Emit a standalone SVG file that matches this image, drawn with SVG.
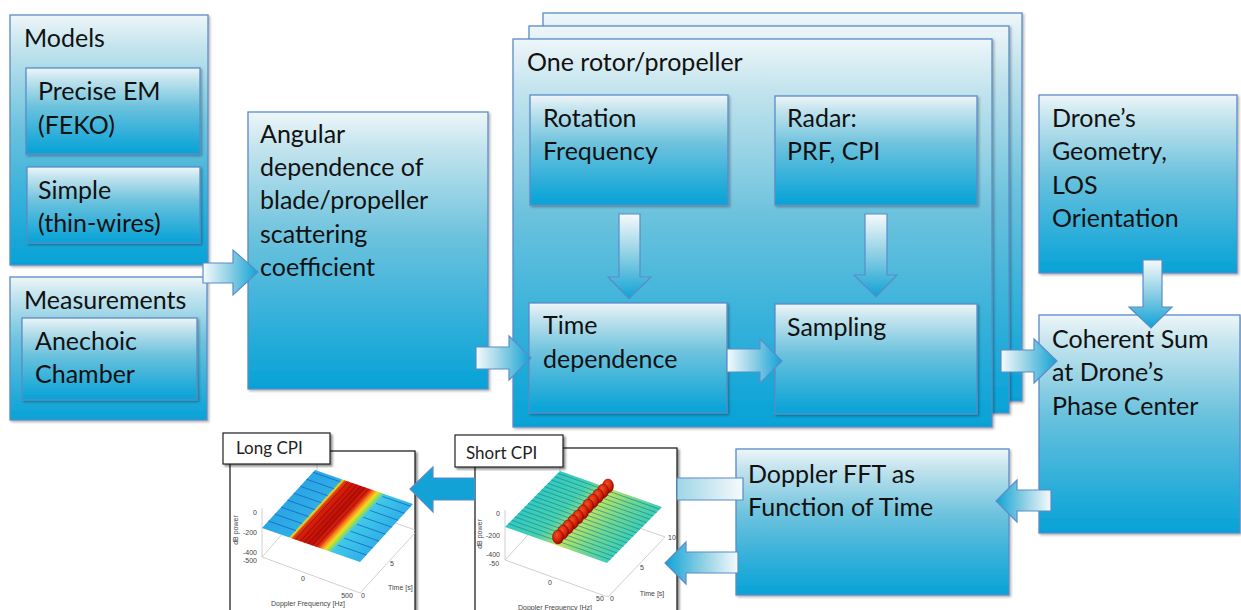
<svg xmlns="http://www.w3.org/2000/svg" width="1241" height="610" viewBox="0 0 1241 610">
<defs>
<style>
.box{fill:url(#gBox);stroke:#5b8cc8;stroke-width:1.3;filter:url(#sh)}
.t{font-family:Lato,"Liberation Sans",sans-serif;font-size:25px;fill:#111}
.lbl{font-family:Lato,"Liberation Sans",sans-serif;font-size:17px;fill:#222}
.arr{stroke:#5b8cc8;stroke-width:1.2}
.ax{stroke:#c4c4c4;stroke-width:0.8;fill:none}
.tk{font-family:"Liberation Sans",Arial,sans-serif;font-size:7px;fill:#444}
.frame{fill:#fff;stroke:#222;stroke-width:1.3;filter:url(#sh2)}
.ns{vector-effect:non-scaling-stroke;fill:none;stroke-width:1px}
.sb{stroke:#1560c0;stroke-opacity:0.75}
.sr{stroke:#780000;stroke-opacity:0.6}
.sg{stroke:#168c96;stroke-opacity:0.7}
</style>
<filter id="sh" x="-5%" y="-5%" width="115%" height="115%">
<feDropShadow dx="1.5" dy="1.5" stdDeviation="1.2" flood-color="#000" flood-opacity="0.3"/>
</filter>
<filter id="sh2" x="-5%" y="-5%" width="115%" height="115%">
<feDropShadow dx="2" dy="2" stdDeviation="1.2" flood-color="#000" flood-opacity="0.45"/>
</filter>
<linearGradient id="gBox" x1="0" y1="0" x2="0" y2="1">
<stop offset="0" stop-color="#eef6f9"/>
<stop offset="0.12" stop-color="#c6e5ee"/>
<stop offset="0.45" stop-color="#6cc2dd"/>
<stop offset="0.75" stop-color="#33b0da"/>
<stop offset="1" stop-color="#05a2d6"/>
</linearGradient>
<linearGradient id="gR" x1="0" y1="0" x2="1" y2="0">
<stop offset="0" stop-color="#f6fafc"/>
<stop offset="0.5" stop-color="#8acee3"/>
<stop offset="1" stop-color="#10a2d6"/>
</linearGradient>
<linearGradient id="gL" x1="1" y1="0" x2="0" y2="0">
<stop offset="0" stop-color="#f6fafc"/>
<stop offset="0.5" stop-color="#8acee3"/>
<stop offset="1" stop-color="#10a2d6"/>
</linearGradient>
<linearGradient id="gD" x1="0" y1="0" x2="0" y2="1">
<stop offset="0" stop-color="#f6fafc"/>
<stop offset="0.5" stop-color="#8acee3"/>
<stop offset="1" stop-color="#10a2d6"/>
</linearGradient>
<linearGradient id="gLong" gradientUnits="userSpaceOnUse" x1="743" y1="0" x2="560" y2="0">
<stop offset="0" stop-color="#f6fafc"/>
<stop offset="0.5" stop-color="#7cc8df"/>
<stop offset="1" stop-color="#12a2d5"/>
</linearGradient>
<linearGradient id="gSurfL" x1="0" y1="0" x2="1" y2="0">
<stop offset="0" stop-color="#2aa6e4"/>
<stop offset="0.27" stop-color="#30ace6"/>
<stop offset="0.29" stop-color="#e8e020"/>
<stop offset="0.31" stop-color="#e04010"/>
<stop offset="0.36" stop-color="#d41c0a"/>
<stop offset="0.5" stop-color="#bc1008"/>
<stop offset="0.57" stop-color="#e02a10"/>
<stop offset="0.6" stop-color="#f08020"/>
<stop offset="0.64" stop-color="#f8d820"/>
<stop offset="0.67" stop-color="#a0e040"/>
<stop offset="0.71" stop-color="#40c8e8"/>
<stop offset="1" stop-color="#30b0e8"/>
</linearGradient>
<linearGradient id="gSurfS" x1="0" y1="0" x2="1" y2="0">
<stop offset="0" stop-color="#34c8c0"/>
<stop offset="0.3" stop-color="#48d0ae"/>
<stop offset="0.45" stop-color="#98dc78"/>
<stop offset="0.5" stop-color="#c4e25c"/>
<stop offset="0.56" stop-color="#b0e068"/>
<stop offset="0.75" stop-color="#70d690"/>
<stop offset="1" stop-color="#3ecdb4"/>
</linearGradient>
<radialGradient id="gBump" cx="0.4" cy="0.35" r="0.7">
<stop offset="0" stop-color="#f05020"/>
<stop offset="0.6" stop-color="#d42008"/>
<stop offset="1" stop-color="#8a0800"/>
</radialGradient>
</defs>
<rect width="1241" height="610" fill="#fff"/>

<g id="models">
<rect class="box" x="10" y="15" width="198" height="250"/>
<text class="t" x="24" y="47">Models</text>
</g>
<g id="precise-em">
<rect class="box" x="26" y="68" width="174" height="86"/>
<text class="t" x="38" y="100">Precise EM</text>
<text class="t" x="38" y="134">(FEKO)</text>
</g>
<g id="simple">
<rect class="box" x="27" y="167" width="173" height="76"/>
<text class="t" x="38" y="199">Simple</text>
<text class="t" x="38" y="232">(thin-wires)</text>
</g>
<g id="measurements">
<rect class="box" x="10" y="277" width="197" height="143"/>
<text class="t" x="24" y="309">Measurements</text>
</g>
<g id="anechoic">
<rect class="box" x="22" y="318" width="175" height="82"/>
<text class="t" x="35" y="350">Anechoic</text>
<text class="t" x="35" y="383">Chamber</text>
</g>
<g id="angular">
<rect class="box" x="248" y="112" width="240" height="277"/>
<text class="t" x="260" y="143">Angular</text>
<text class="t" x="260" y="176">dependence of</text>
<text class="t" x="260" y="209">blade/propeller</text>
<text class="t" x="260" y="243">scattering</text>
<text class="t" x="260" y="276">coefficient</text>
</g>
<g id="rotor-stack">
<rect class="box" x="543" y="13" width="479" height="388"/>
<rect class="box" x="529" y="26" width="480" height="387"/>
<rect class="box" x="513" y="39" width="479" height="388"/>
<text class="t" x="527" y="71">One rotor/propeller</text>
</g>
<g id="rotation">
<rect class="box" x="530" y="95" width="198" height="110"/>
<text class="t" x="543" y="127">Rotation</text>
<text class="t" x="543" y="160">Frequency</text>
</g>
<g id="radar">
<rect class="box" x="775" y="96" width="202" height="109"/>
<text class="t" x="787" y="127">Radar:</text>
<text class="t" x="787" y="160">PRF, CPI</text>
</g>
<g id="time-dependence">
<rect class="box" x="529" y="303" width="198" height="110"/>
<text class="t" x="543" y="334">Time</text>
<text class="t" x="543" y="368">dependence</text>
</g>
<g id="sampling">
<rect class="box" x="775" y="304" width="202" height="110"/>
<text class="t" x="787" y="336">Sampling</text>
</g>
<g id="drone-geometry">
<rect class="box" x="1039" y="95" width="198" height="178"/>
<text class="t" x="1052" y="127">Drone’s</text>
<text class="t" x="1052" y="160">Geometry,</text>
<text class="t" x="1052" y="194">LOS</text>
<text class="t" x="1052" y="227">Orientation</text>
</g>
<g id="coherent-sum">
<rect class="box" x="1039" y="315" width="201" height="218"/>
<text class="t" x="1052" y="348">Coherent Sum</text>
<text class="t" x="1052" y="381">at Drone’s</text>
<text class="t" x="1052" y="415">Phase Center</text>
</g>
<g id="doppler-fft">
<rect class="box" x="736" y="449" width="273" height="146"/>
<text class="t" x="748" y="483">Doppler FFT as</text>
<text class="t" x="748" y="516">Function of Time</text>
</g>

<g id="long-cpi">
<rect class="frame" x="230" y="451" width="185" height="170"/>
<path class="ax" d="M262,508 V557 L360,593 L415,533 M317,452 V495 M262,557 L317,495 L415,530"/>
<g transform="matrix(98 34 53 -58 262 528)">
<rect x="0" y="0" width="1" height="1" fill="url(#gSurfL)"/>
<path class="ns sb" d="M0,0.12 H0.28 M0,0.24 H0.28 M0,0.36 H0.28 M0,0.48 H0.28 M0,0.6 H0.28 M0,0.72 H0.28 M0,0.84 H0.28 M0,0.96 H0.28"/>
<path class="ns sb" d="M0.71,0.12 H1 M0.71,0.24 H1 M0.71,0.36 H1 M0.71,0.48 H1 M0.71,0.6 H1 M0.71,0.72 H1 M0.71,0.84 H1 M0.71,0.96 H1"/>
<path class="ns sr" d="M0.34,0 V1 M0.39,0 V1 M0.43,0 V1 M0.47,0 V1 M0.51,0 V1 M0.55,0 V1"/>
</g>
<text class="tk" x="257" y="515" text-anchor="end">0</text>
<text class="tk" x="257" y="535" text-anchor="end">-200</text>
<text class="tk" x="257" y="555" text-anchor="end">-400</text>
<text class="tk" x="250" y="563" text-anchor="middle">-500</text>
<text class="tk" x="303" y="581" text-anchor="middle">0</text>
<text class="tk" x="347" y="598" text-anchor="middle">500</text>
<text class="tk" x="363" y="598" text-anchor="middle">0</text>
<text class="tk" x="392" y="566" text-anchor="middle">5</text>
<text class="tk" x="388" y="590">Time [s]</text>
<text class="tk" x="308" y="606" text-anchor="middle">Doppler Frequency [Hz]</text>
<text class="tk" transform="translate(238,530) rotate(-90)" text-anchor="middle">dB power</text>
</g>
<g id="long-cpi-label">
<rect x="223" y="433" width="107" height="31" fill="#fff" stroke="#222" stroke-width="1.2" filter="url(#sh2)"/>
<text class="lbl" x="236" y="454">Long CPI</text>
</g>

<g id="short-cpi">
<rect class="frame" x="475" y="448" width="202" height="170"/>
<path class="ax" d="M505,510 V560 L608,597 L665,537 M560,452 V500 M505,560 L560,500 L665,537"/>
<g transform="matrix(102 36 55 -56 505 527)">
<rect x="0" y="0" width="1" height="1" fill="url(#gSurfS)"/>
<path class="ns sg" d="M0,0.06 H1 M0,0.12 H1 M0,0.18 H1 M0,0.24 H1 M0,0.3 H1 M0,0.36 H1 M0,0.42 H1 M0,0.48 H1 M0,0.54 H1 M0,0.6 H1 M0,0.66 H1 M0,0.72 H1 M0,0.78 H1 M0,0.84 H1 M0,0.9 H1 M0,0.96 H1"/>
</g>
<g fill="url(#gBump)" stroke="#700" stroke-width="0.5">
<ellipse cx="608" cy="486" rx="5.5" ry="7"/>
<ellipse cx="603" cy="491" rx="5.5" ry="7"/>
<ellipse cx="598" cy="496" rx="5.5" ry="7"/>
<ellipse cx="593" cy="501" rx="5.5" ry="7"/>
<ellipse cx="588" cy="506" rx="5.5" ry="7"/>
<ellipse cx="583" cy="512" rx="5.5" ry="7"/>
<ellipse cx="578" cy="517" rx="5.5" ry="7"/>
<ellipse cx="573" cy="522" rx="5.5" ry="7"/>
<ellipse cx="568" cy="527" rx="5.5" ry="7"/>
<ellipse cx="563" cy="532" rx="5.5" ry="7"/>
<ellipse cx="558" cy="537" rx="5.5" ry="7"/>
</g>
<text class="tk" x="500" y="516" text-anchor="end">0</text>
<text class="tk" x="500" y="538" text-anchor="end">-200</text>
<text class="tk" x="500" y="557" text-anchor="end">-400</text>
<text class="tk" x="494" y="566" text-anchor="middle">-50</text>
<text class="tk" x="550" y="585" text-anchor="middle">0</text>
<text class="tk" x="600" y="601" text-anchor="middle">50</text>
<text class="tk" x="612" y="601" text-anchor="middle">0</text>
<text class="tk" x="642" y="570" text-anchor="middle">5</text>
<text class="tk" x="672" y="540" text-anchor="middle">10</text>
<text class="tk" x="652" y="596" text-anchor="middle">Time [s]</text>
<text class="tk" x="555" y="610" text-anchor="middle">Doppler Frequency [Hz]</text>
<text class="tk" transform="translate(482,534) rotate(-90)" text-anchor="middle">dB power</text>
</g>
<g id="short-cpi-label">
<rect x="455" y="435" width="108" height="32" fill="#fff" stroke="#222" stroke-width="1.2" filter="url(#sh2)"/>
<text class="lbl" x="466" y="459">Short CPI</text>
</g>

<g id="connectors">
<polygon class="arr" fill="url(#gR)" points="203,263 233,263 233,250 258,272 233,295 233,283 203,283"/>
<polygon class="arr" fill="url(#gR)" points="476,347 509,347 509,336 531,358 509,380 509,369 476,369"/>
<polygon class="arr" fill="url(#gR)" points="727,349 760,349 760,339 782,361 760,383 760,372 727,372"/>
<polygon class="arr" fill="url(#gR)" points="1001,350 1034,350 1034,339 1057,361 1034,383 1034,372 1001,372"/>
<polygon class="arr" fill="url(#gD)" points="619,214 640,214 640,277 651,277 629,299 608,277 619,277"/>
<polygon class="arr" fill="url(#gD)" points="865,214 887,214 887,275 897,275 876,297 854,275 865,275"/>
<polygon class="arr" fill="url(#gD)" points="1143,260 1162,260 1162,307 1172,307 1151,328 1129,307 1143,307"/>
<polygon class="arr" fill="url(#gL)" points="1051,490 1017,490 1017,480 996,501 1017,522 1017,511 1051,511"/>
<g id="doppler-to-long">
<polygon class="arr" fill="url(#gLong)" points="677,478 743,478 743,500 677,500"/>
<polygon class="arr" fill="url(#gLong)" points="475,478 433,478 433,467 410,489 433,512 433,500 475,500"/>
</g>
<polygon class="arr" fill="url(#gL)" points="738,552 686,552 686,542 665,563 686,584 686,573 738,573"/>
</g>
</svg>
